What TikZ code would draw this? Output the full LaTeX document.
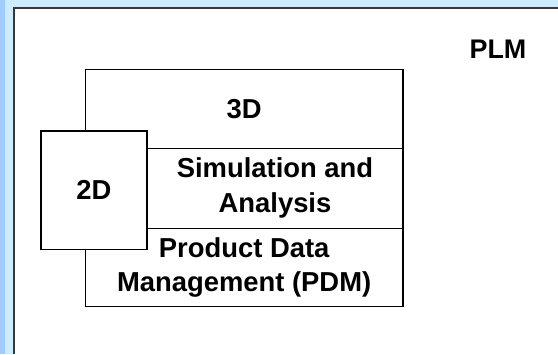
\documentclass[tikz,border=0pt]{standalone}
\usepackage{fontspec}
\setmainfont{Liberation Sans}
\definecolor{stripdark}{HTML}{A0CCFF}
\definecolor{striplight}{HTML}{CCEBFF}
\definecolor{framegray}{HTML}{383838}
\begin{document}
\begin{tikzpicture}[x=1bp,y=-1bp,
  box/.style={draw=black, line width=1.2bp, fill=white, inner sep=0pt,
    font=\fontsize{27.5}{35}\selectfont\bfseries, align=center},
  title/.style={inner sep=0pt, font=\fontsize{27}{32}\selectfont\bfseries}]
\useasboundingbox (0,0) rectangle (558,354);
\fill[striplight] (0,0) rectangle (558,354);
\fill[stripdark] (0,0) rectangle (5,354);
\fill[white] (14,8) rectangle (558,354);
\draw[framegray, line width=1.6bp] (14,354) -- (14,8) -- (558,8);
\node[title] (plm) at (498,49) {PLM};
\node[box, minimum width=317.7bp, minimum height=79bp] (d3) at (244.15,108.8) {3D};
\node[box, minimum width=256bp, minimum height=80bp] (sim) at (275,188.3) {Simulation and\\Analysis};
\node[box, minimum width=317.7bp, minimum height=78.4bp] (pdm) at (244.15,267.5) {Product Data\\Management (PDM)};
\node[box, minimum width=106bp, minimum height=118.3bp] (d2) at (94,190.15) {2D};
\end{tikzpicture}
\end{document}
